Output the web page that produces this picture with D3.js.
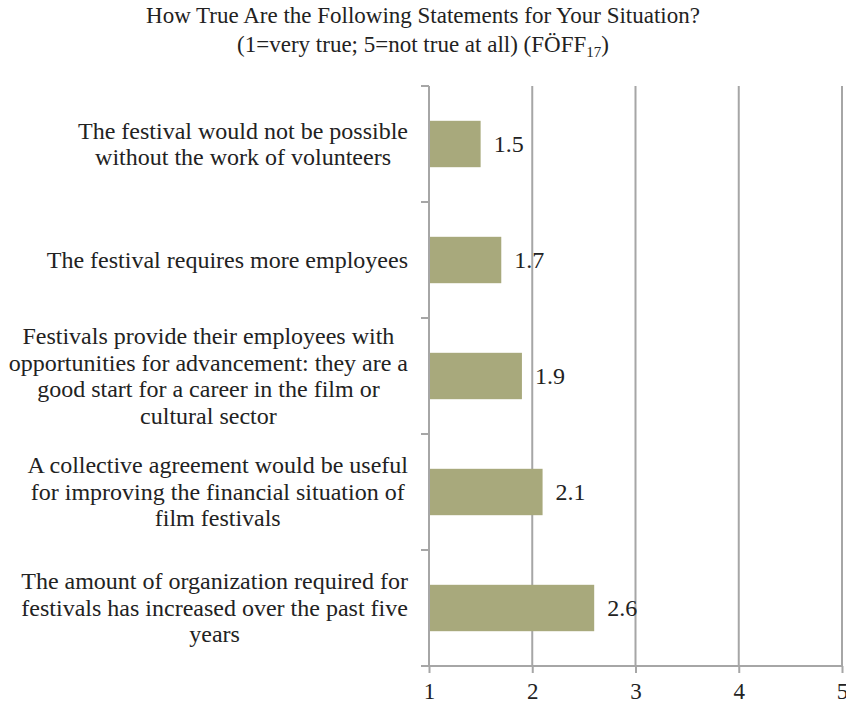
<!DOCTYPE html>
<html>
<head>
<meta charset="utf-8">
<script src="https://cdn.jsdelivr.net/npm/d3@7"></script>
<style>
  body { margin: 0; background: #fff; }
  text { font-family: "Liberation Serif", "Times New Roman", serif; fill: #222; }
</style>
</head>
<body>
<svg id="chart" width="846" height="704"></svg>
<script>
// statements, top to bottom
var statements = [
    "The festival would not be possible without the work of volunteers",
    "The festival requires more employees",
    "Festivals provide their employees with opportunities for advancement: they are a good start for a career in the film or cultural sector",
    "A collective agreement would be useful for improving the financial situation of film festivals",
    "The amount of organization required for festivals has increased over the past five years"
];
var labelLines = [
    ["The festival would not be possible", "without the work of volunteers"],
    ["The festival requires more employees"],
    ["Festivals provide their employees with", "opportunities for advancement: they are a", "good start for a career in the film or", "cultural sector"],
    ["A collective agreement would be useful", "for improving the financial situation of", "film festivals"],
    ["The amount of organization required for", "festivals has increased over the past five", "years"]
];
var means = [1.5, 1.7, 1.9, 2.1, 2.6];
var xTicks = [1, 2, 3, 4, 5];

var svg = d3.select("#chart");
var plotLeft = 429, plotRight = 842, plotTop = 86, plotBottom = 666;

var x = d3.scaleLinear().domain([1, 5]).range([plotLeft, plotRight]);
var y = d3.scaleBand().domain(statements).range([plotTop, plotBottom])
    .paddingInner(0.6).paddingOuter(0.3);

// title
svg.append("text")
    .attr("text-anchor", "middle")
    .attr("x", 423).attr("y", 23)
    .style("font-size", "23px")
    .text("How True Are the Following Statements for Your Situation?");
var title2 = svg.append("text")
    .attr("text-anchor", "middle")
    .attr("x", 423).attr("y", 52)
    .style("font-size", "23px");
title2.append("tspan").text("(1=very true; 5=not true at all) (FÖFF");
title2.append("tspan").attr("dy", 5).style("font-size", "15px").text("17");
title2.append("tspan").attr("dy", -5).text(")");

// vertical gridlines
svg.append("g").selectAll("line")
    .data(xTicks.slice(1))
    .join("line")
    .attr("x1", d => x(d)).attr("x2", d => x(d))
    .attr("y1", plotTop).attr("y2", plotBottom)
    .attr("stroke", "#a6a6a6").attr("stroke-width", 2);

// bars
svg.append("g").selectAll("rect")
    .data(means)
    .join("rect")
    .attr("x", x(1))
    .attr("y", (d, i) => y(statements[i]))
    .attr("width", d => x(d) - x(1))
    .attr("height", y.bandwidth())
    .attr("fill", "#a8a97c");

// value labels
svg.append("g").selectAll("text")
    .data(means)
    .join("text")
    .attr("x", d => x(d) + 13)
    .attr("y", (d, i) => y(statements[i]) + y.bandwidth() / 2)
    .attr("dy", "0.35em")
    .style("font-size", "24px")
    .text(d => d.toFixed(1));

// x axis
var xAxis = svg.append("g")
    .attr("transform", "translate(0," + plotBottom + ")")
    .call(d3.axisBottom(x).tickValues(xTicks).tickFormat(d3.format("d")).tickSize(7).tickPadding(10));
xAxis.select(".domain").attr("stroke", "#a6a6a6").attr("stroke-width", 2)
    .attr("d", "M" + (plotLeft - 8) + ",0H" + plotRight);
xAxis.selectAll(".tick line").attr("stroke", "#a6a6a6").attr("stroke-width", 2);
xAxis.selectAll(".tick text").style("font-size", "23px").attr("fill", "#222")
    .style("font-family", "'Liberation Serif', serif");

// y axis line and band ticks
svg.append("line")
    .attr("x1", plotLeft).attr("x2", plotLeft)
    .attr("y1", plotTop).attr("y2", plotBottom)
    .attr("stroke", "#a6a6a6").attr("stroke-width", 2);
var bounds = statements.map(s => y(s) - y.step() * 0.3);
bounds.push(plotBottom);
svg.append("g").selectAll("line")
    .data(bounds)
    .join("line")
    .attr("x1", plotLeft - 8).attr("x2", plotLeft)
    .attr("y1", d => d).attr("y2", d => d)
    .attr("stroke", "#a6a6a6").attr("stroke-width", 2);

// category labels: lines centred inside a block that is right-aligned
var lineH = 26.5, labelRight = 408;
svg.append("g").selectAll("text")
    .data(labelLines)
    .join("text")
    .attr("text-anchor", "middle")
    .style("font-size", "24px")
    .each(function (lines, i) {
        var cy = y(statements[i]) + y.bandwidth() / 2;
        var y0 = cy - (lines.length - 1) * lineH / 2;
        var spans = d3.select(this).selectAll("tspan")
            .data(lines)
            .join("tspan")
            .attr("y", (d, j) => y0 + j * lineH)
            .attr("dy", "0.33em")
            .text(d => d);
        var maxW = d3.max(spans.nodes(), n => n.getComputedTextLength());
        spans.attr("x", labelRight - maxW / 2);
    });
</script>
</body>
</html>
